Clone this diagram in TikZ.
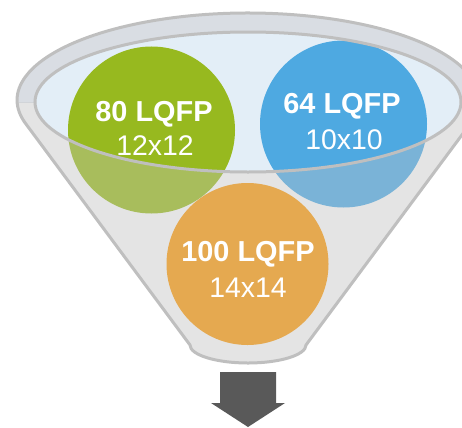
\documentclass[tikz,border=0pt]{standalone}
\usepackage{fontspec}
\setmainfont{Liberation Sans}
\begin{document}
\begin{tikzpicture}[x=1bp,y=1bp,
  rimline/.style={draw=black!25, line width=3bp},
  ball/.style={circle, inner sep=0pt, minimum size=#1},
  title/.style={anchor=base, text=white, font=\fontsize{29}{30}\selectfont\bfseries},
  dims/.style={anchor=base, text=white, font=\fontsize{28.5}{30}\selectfont}]
\definecolor{rimgray}{HTML}{D9DDE3}
\definecolor{mouth}{HTML}{E3EEF7}
\definecolor{bodygray}{HTML}{F6F6F6}
\definecolor{frontgray}{HTML}{C6C6C6}
\definecolor{leaf}{HTML}{97B91F}
\definecolor{sky}{HTML}{4EA9E1}
\definecolor{amber}{HTML}{E5A950}
\definecolor{arrowgray}{HTML}{595959}
\useasboundingbox (0,0) rectangle (462,427);
\clip (0,0) rectangle (462,427);

% funnel outline: outer rim plus cone
\def\funnelpath{(25.5,303.6) -- (190,82) arc[start angle=180, end angle=360, x radius=58, y radius=18]
  -- (470.5,303.6) arc[start angle=-15.6, end angle=195.6, x radius=231, y radius=87] -- cycle}
\fill[bodygray] \funnelpath;

% rim above the mouth
\begin{scope}
  \clip (0,325) rectangle (462,427);
  \fill[rimgray] (248,327) ellipse[x radius=231, y radius=87];
\end{scope}

% mouth of the funnel
\fill[mouth] (248,325) ellipse[x radius=213, y radius=70];

% packages inside the funnel
\node[ball=167bp, fill=leaf] (p80) at (151.5,297) {};
\node[ball=167bp, fill=sky] (p64) at (343.5,303) {};

% translucent front of the cone
\begin{scope}
  \clip (0,0) rectangle (462,325);
  \fill[frontgray, fill opacity=0.37, even odd rule] \funnelpath (248,325) ellipse[x radius=213, y radius=70];
\end{scope}

\draw[rimline] \funnelpath;
\draw[rimline] (248,325) ellipse[x radius=213, y radius=70];

\node[ball=162bp, fill=amber] (p100) at (247.5,163) {};

% labels
\node[title] (t80) at (154,306) {80 LQFP};
\node[dims] (d80) at (155,272) {12x12};
\node[title] (t64) at (342,314) {64 LQFP};
\node[dims] (d64) at (344,278) {10x10};
\node[title] (t100) at (248,166) {100 LQFP};
\node[dims] (d100) at (248,130) {14x14};

% output arrow
\fill[arrowgray] (220,55) -- (276,55) -- (276,24) -- (285,24) -- (248,0) -- (211,24) -- (220,24) -- cycle;
\end{tikzpicture}
\end{document}
